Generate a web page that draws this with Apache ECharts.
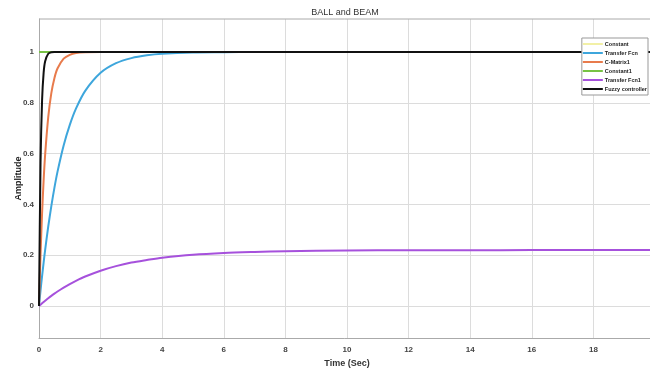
<!DOCTYPE html>
<html><head><meta charset="utf-8">
<script src="https://cdn.jsdelivr.net/npm/echarts@6/dist/echarts.min.js"></script>
<style>html,body{margin:0;padding:0;background:#fff}#c{width:650px;height:372px}</style>
</head><body><div id="c"></div>
<script>
const times = [0,0.05,0.1,0.15,0.2,0.3,0.4,0.5,0.6,0.8,1,1.2,1.5,2,2.5,3,3.5,4,5,6,7,8,10,12,14,16,18,20];
const constant      = [1,1,1,1,1,1,1,1,1,1,1,1,1,1,1,1,1,1,1,1,1,1,1,1,1,1,1,1];
const transferFcn   = [0,0.061,0.118,0.171,0.221,0.313,0.393,0.465,0.528,0.632,0.713,0.777,0.847,0.918,0.956,0.976,0.987,0.993,0.998,0.999,1,1,1,1,1,1,1,1];
const cMatrix1      = [0,0.203,0.365,0.494,0.597,0.744,0.838,0.897,0.935,0.974,0.989,0.996,0.999,1,1,1,1,1,1,1,1,1,1,1,1,1,1,1];
const constant1     = [1,1,1,1,1,1,1,1,1,1,1,1,1,1,1,1,1,1,1,1,1,1,1,1,1,1,1,1];
const transferFcn1  = [0,0.0054,0.0107,0.0159,0.0209,0.0307,0.0399,0.0487,0.057,0.0725,0.0866,0.0993,0.116,0.139,0.157,0.171,0.181,0.190,0.202,0.209,0.213,0.216,0.2185,0.2195,0.2198,0.22,0.22,0.22];
const fuzzy         = [0,0.565,0.81,0.918,0.964,0.993,0.999,1,1,1,1,1,1,1,1,1,1,1,1,1,1,1,1,1,1,1,1,1];
const yTicks = [0,0.2,0.4,0.6,0.8,1];
const names = ['Constant','Transfer Fcn','C-Matrix1','Constant1','Transfer Fcn1','Fuzzy controller'];
const colors = ['#f2f0a6','#3ea6dc','#e87b4c','#77c244','#a651dc','#111111'];
const seriesData = [constant, transferFcn, cMatrix1, constant1, transferFcn1, fuzzy];

const chart = echarts.init(document.getElementById('c'));
chart.setOption({
  animation:false,
  title:{text:'BALL and BEAM', left:340, top:3, textAlign:'center',
    textStyle:{fontSize:9, fontWeight:'normal', color:'#333', fontFamily:'Liberation Sans'}},
  grid:{left:39, right:-5, top:19, bottom:34, outerBoundsMode:'none', containLabel:false},
  legend:{orient:'vertical', right:2, top:38, itemWidth:20, itemHeight:2, itemGap:3,
    icon:'rect', backgroundColor:'#fff', borderColor:'#999', borderWidth:1, padding:[3,1,3,1],
    textStyle:{fontSize:5.5, fontWeight:'bold', color:'#222', fontFamily:'Liberation Sans', padding:[0,0,0,-3]},
    data:names},
  xAxis:{type:'value', min:0, max:20, interval:2,
    name:'Time (Sec)', nameLocation:'middle', nameGap:18,
    nameTextStyle:{fontSize:9, fontWeight:'bold', color:'#333', fontFamily:'Liberation Sans'},
    axisLine:{show:true, onZero:false, lineStyle:{color:'#aaa'}},
    axisTick:{show:false},
    axisLabel:{fontSize:8, fontWeight:'bold', color:'#444', margin:8, fontFamily:'Liberation Sans'},
    splitLine:{show:true, lineStyle:{color:'#dcdcdc', width:1}}},
  yAxis:{type:'value', min:-0.126, max:1.13,
    name:'Amplitude', nameLocation:'middle', nameGap:16, nameRotate:90, nameMoveOverlap:false,
    nameTextStyle:{fontSize:9, fontWeight:'bold', color:'#222', fontFamily:'Liberation Sans'},
    axisLine:{show:true, onZero:false, lineStyle:{color:'#aaa'}},
    axisTick:{show:false, customValues:yTicks},
    axisLabel:{fontSize:8, fontWeight:'bold', color:'#444', margin:5, customValues:yTicks, fontFamily:'Liberation Sans'},
    splitLine:{show:true, lineStyle:{color:'#dcdcdc', width:1}}},
  series: names.map((n,i)=>({
    name:n, type:'line', smooth:0.3, symbol:'none',
    lineStyle:{width:2, color:colors[i]}, itemStyle:{color:colors[i]},
    data: times.map((t,j)=>[t, seriesData[i][j]])
  }))
});
chart.setOption({graphic:[{type:'line', shape:{x1:39,y1:19,x2:650,y2:19}, style:{stroke:'#aaa', lineWidth:1}}]});
</script></body></html>
